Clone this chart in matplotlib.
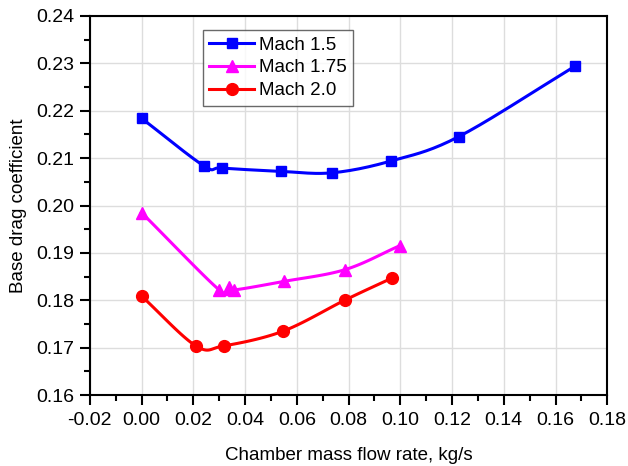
import numpy as np
import matplotlib
matplotlib.use('Agg')
import matplotlib.pyplot as plt
from matplotlib.ticker import MultipleLocator

plt.rcParams['font.family'] = ['Liberation Sans', 'DejaVu Sans']

# data
flow_m15 = [0.0, 0.0240, 0.0310, 0.0538, 0.0737, 0.0965, 0.1225, 0.1676]
cd_m15 = [0.2184, 0.2084, 0.2079, 0.2072, 0.2069, 0.2094, 0.2145, 0.2294]

flow_m175 = [0.0, 0.0300, 0.0338, 0.0358, 0.0551, 0.0788, 0.0997]
cd_m175 = [0.1985, 0.1822, 0.1828, 0.1822, 0.1840, 0.1865, 0.1915]

flow_m20 = [0.0, 0.0210, 0.0318, 0.0547, 0.0788, 0.0968]
cd_m20 = [0.1809, 0.1704, 0.1704, 0.1735, 0.1801, 0.1847]


def smooth(x, y, n=20):
    # Catmull-Rom curve through the points, like the smoothed lines in the figure
    x = np.asarray(x, float)
    y = np.asarray(y, float)
    px = np.concatenate([[2 * x[0] - x[1]], x, [2 * x[-1] - x[-2]]])
    py = np.concatenate([[2 * y[0] - y[1]], y, [2 * y[-1] - y[-2]]])
    t = np.linspace(0, 1, n)[:, None]
    xs, ys = [], []
    for i in range(1, len(px) - 2):
        for p, out in ((px, xs), (py, ys)):
            p0, p1, p2, p3 = p[i - 1], p[i], p[i + 1], p[i + 2]
            c = 0.5 * (2 * p1 + (-p0 + p2) * t + (2 * p0 - 5 * p1 + 4 * p2 - p3) * t ** 2
                       + (-p0 + 3 * p1 - 3 * p2 + p3) * t ** 3)
            out.append(c.ravel())
    return np.concatenate(xs), np.concatenate(ys)


fig = plt.figure(figsize=(6.28, 4.66), dpi=100)
ax = fig.add_axes([0.143, 0.152, 0.824, 0.814])

series = [
    (flow_m15, cd_m15, 'blue', 's', 'Mach 1.5', 7.5),
    (flow_m175, cd_m175, 'magenta', '^', 'Mach 1.75', 8.5),
    (flow_m20, cd_m20, 'red', 'o', 'Mach 2.0', 8.5),
]
for x, y, col, mk, lab, ms in series:
    sx, sy = smooth(x, y)
    ax.plot(sx, sy, color=col, lw=2.2, zorder=3)
    ax.plot(x, y, ls='none', marker=mk, color=col, ms=ms, zorder=4)
    ax.plot([], [], color=col, lw=2.2, marker=mk, ms=ms, label=lab)

ax.set_xlim(-0.02, 0.18)
ax.set_ylim(0.16, 0.24)
ax.xaxis.set_major_locator(MultipleLocator(0.02))
ax.xaxis.set_minor_locator(MultipleLocator(0.01))
ax.yaxis.set_major_locator(MultipleLocator(0.01))
ax.yaxis.set_minor_locator(MultipleLocator(0.005))
ax.xaxis.set_major_formatter(plt.FormatStrFormatter('%.2f'))
ax.yaxis.set_major_formatter(plt.FormatStrFormatter('%.2f'))
ax.grid(True, color='#dddddd', lw=1)
ax.set_axisbelow(True)
ax.tick_params(which='both', direction='out', labelsize=14, width=1.5,
               top=False, right=False)
ax.tick_params(which='major', length=7, pad=4)
ax.tick_params(axis='x', which='major', pad=5)
ax.tick_params(which='minor', length=4)
for s in ax.spines.values():
    s.set_linewidth(1.5)

ax.set_xlabel('Chamber mass flow rate, kg/s', fontsize=13.5, labelpad=13)
ax.set_ylabel('Base drag coefficient', fontsize=13.5, labelpad=7)

leg = ax.legend(loc='upper left', bbox_to_anchor=(0.2186, 0.963), fontsize=13.5,
                fancybox=False, edgecolor='#444444', handlelength=2.4,
                borderpad=0.35, labelspacing=0.3, handletextpad=0.25,
                borderaxespad=0)
leg.get_frame().set_linewidth(1)

fig.savefig('out.png', dpi=100)
